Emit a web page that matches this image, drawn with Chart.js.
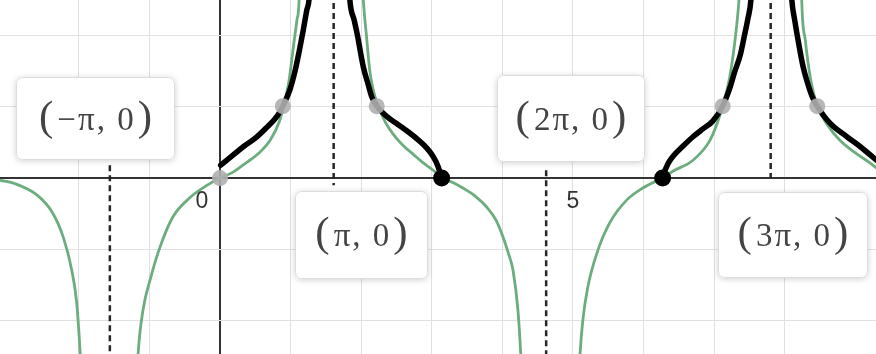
<!DOCTYPE html>
<html>
<head>
<meta charset="utf-8">
<script src="https://cdn.jsdelivr.net/npm/chart.js@4"></script>
<style>
  html, body { margin: 0; padding: 0; background: #fff; }
  #graph { display: block; }
</style>
</head>
<body>
<canvas id="graph" width="876" height="354"></canvas>
<script>
// green curve, one branch between each pair of asymptotes ([x, y])
const greenA = [[-3.12, -0.03], [-2.90, -0.08], [-2.59, -0.24], [-2.37, -0.49], [-2.22, -0.83], [-2.10, -1.29], [-2.03, -1.75], [-1.98, -2.47], [-1.95, -3.12]];
const greenB = [[-1.19, -3.12], [-1.16, -2.47], [-1.09, -1.85], [-0.99, -1.43], [-0.85, -0.97], [-0.67, -0.55], [-0.42, -0.27], [-0.18, -0.10], [0, 0], [0.18, 0.08], [0.35, 0.20], [0.54, 0.34], [0.71, 0.53], [0.84, 0.79], [0.91, 1.04], [0.98, 1.38], [1.03, 1.77], [1.09, 2.22], [1.12, 2.50], [1.13, 3.06]];
const greenC = [[2.00, 3.06], [2.03, 2.50], [2.08, 1.94], [2.12, 1.52], [2.17, 1.24], [2.24, 1.01], [2.34, 0.79], [2.45, 0.62], [2.59, 0.46], [2.73, 0.34], [2.87, 0.22], [3.02, 0.11], [3.14, 0], [3.29, -0.06], [3.44, -0.14], [3.61, -0.25], [3.78, -0.41], [3.91, -0.59], [4.01, -0.83], [4.09, -1.07], [4.15, -1.29], [4.22, -1.85], [4.26, -2.47], [4.29, -3.12]];
const greenD = [[5.07, -3.12], [5.10, -2.47], [5.14, -1.99], [5.21, -1.53], [5.34, -1.05], [5.52, -0.63], [5.76, -0.31], [5.99, -0.14], [6.26, 0], [6.42, 0.10], [6.70, 0.25], [6.94, 0.53], [7.05, 0.79], [7.12, 1.01], [7.22, 1.42], [7.29, 1.89], [7.34, 2.36], [7.35, 2.50], [7.37, 3.06]];
const greenE = [[8.23, 3.06], [8.24, 2.50], [8.29, 1.94], [8.36, 1.42], [8.46, 1.01], [8.61, 0.74], [8.78, 0.53], [8.99, 0.36], [9.21, 0.21], [9.30, 0.14]];

// thick black curve pieces
const blackA = [[0.01, 0.18], [0.17, 0.31], [0.33, 0.44], [0.50, 0.56], [0.65, 0.70], [0.81, 0.87], [0.89, 1.01], [0.99, 1.24], [1.06, 1.49], [1.12, 1.77], [1.18, 2.08], [1.23, 2.36], [1.26, 2.50], [1.29, 3.06]];
const blackB = [[1.81, 3.06], [1.84, 2.50], [1.90, 2.22], [1.94, 2.04], [2.03, 1.56], [2.10, 1.31], [2.15, 1.14], [2.22, 1.01], [2.37, 0.86], [2.51, 0.76], [2.65, 0.66], [2.79, 0.55], [2.93, 0.42], [3.02, 0.30], [3.09, 0.16], [3.13, 0.03]];
const blackC = [[6.27, 0.03], [6.35, 0.21], [6.42, 0.31], [6.56, 0.45], [6.70, 0.58], [6.84, 0.69], [6.98, 0.80], [7.12, 1.01], [7.22, 1.26], [7.29, 1.49], [7.37, 1.73], [7.42, 1.96], [7.48, 2.25], [7.52, 2.50], [7.55, 3.06]];
const blackD = [[8.07, 3.06], [8.10, 2.50], [8.14, 2.22], [8.17, 2.04], [8.26, 1.56], [8.33, 1.31], [8.39, 1.14], [8.46, 1.01], [8.64, 0.77], [8.88, 0.58], [9.07, 0.44], [9.30, 0.25]];

// dashed vertical lines
const asymptoteX = [-1.56, 1.61, 4.62, 7.80];
const asymptoteTop = [0.18, 2.6, 0.11, 2.6];
const asymptoteBottom = [-2.6, -0.1, -2.6, 0];

const solidPoints = [[3.14, 0], [6.27, 0]];
const greyPoints = [[0, 0], [0.89, 1.01], [2.22, 1.01], [7.12, 1.01], [8.46, 1.01]];

const pointLabels = ['(−π, 0)', '(π, 0)', '(2π, 0)', '(3π, 0)'];
const axisNumbers = [0, 5];

const toXY = pairs => pairs.map(p => ({ x: p[0], y: p[1] }));

const curve = function (pairs, color, width, order) {
    return {
        data: toXY(pairs),
        borderColor: color,
        borderWidth: width,
        borderCapStyle: 'round',
        borderJoinStyle: 'round',
        cubicInterpolationMode: 'monotone',
        pointRadius: 0,
        fill: false,
        order: order,
    };
};

const dots = function (pairs, color, radius, order) {
    return {
        data: toXY(pairs),
        showLine: false,
        pointRadius: radius,
        pointBackgroundColor: color,
        pointBorderWidth: 0,
        order: order,
    };
};

const green = '#6cad7e';
const datasets = [];
[greenA, greenB, greenC, greenD, greenE].forEach(b => datasets.push(curve(b, green, 2.8, 5)));
[blackA, blackB, blackC, blackD].forEach(b => datasets.push(curve(b, '#000', 5.5, 3)));
asymptoteX.forEach((x, i) => {
    datasets.push({
        data: [{ x: x, y: asymptoteTop[i] }, { x: x, y: asymptoteBottom[i] }],
        borderColor: '#262626',
        borderWidth: 2.5,
        borderDash: [6, 4],
        pointRadius: 0,
        order: 4,
    });
});
datasets.push(dots(greyPoints, 'rgba(175,175,175,0.9)', 8, 1));
datasets.push(dots(solidPoints, '#000', 8.5, 0));

const gridColor = function (ctx) {
    const v = ctx.tick.value;
    if (v === 0) return '#333';
    return Number.isInteger(v) ? '#e0e0e0' : 'rgba(0,0,0,0)';
};
const gridWidth = ctx => ctx.tick.value === 0 ? 2 : 1;

// label boxes in pixels, same order as pointLabels
const boxLayout = [
    { x: 16, y: 77, w: 159, h: 83 },
    { x: 295, y: 191, w: 133, h: 88 },
    { x: 497, y: 75, w: 148, h: 87 },
    { x: 718, y: 192, w: 150, h: 86 },
];

const labelPlugin = {
    id: 'labelPlugin',
    afterDatasetsDraw(chart) {
        const ctx = chart.ctx;
        const xs = chart.scales.x, ys = chart.scales.y;
        ctx.save();

        ctx.font = '23px "Liberation Sans", Arial, sans-serif';
        ctx.fillStyle = '#333';
        ctx.textAlign = 'center';
        ctx.textBaseline = 'middle';
        axisNumbers.forEach(v => {
            const px = xs.getPixelForValue(v) + (v === 0 ? -18 : 0);
            ctx.fillText(String(v), px, ys.getPixelForValue(0) + 24);
        });

        pointLabels.forEach((text, i) => {
            const b = boxLayout[i];
            ctx.save();
            ctx.shadowColor = 'rgba(0,0,0,0.18)';
            ctx.shadowBlur = 6;
            ctx.shadowOffsetY = 1;
            ctx.fillStyle = '#fff';
            ctx.beginPath();
            ctx.roundRect(b.x, b.y, b.w, b.h, 6);
            ctx.fill();
            ctx.restore();
            ctx.strokeStyle = '#dcdcdc';
            ctx.lineWidth = 1;
            ctx.beginPath();
            ctx.roundRect(b.x + 0.5, b.y + 0.5, b.w - 1, b.h - 1, 6);
            ctx.stroke();

            // inner text with taller parentheses, like the math renderer
            const inner = text.slice(1, -1);
            const cx = b.x + b.w / 2, cy = b.y + b.h / 2;
            ctx.fillStyle = '#444';
            ctx.textBaseline = 'alphabetic';
            ctx.font = '33px "Liberation Serif", "Times New Roman", serif';
            ctx.letterSpacing = '2px';
            const w = ctx.measureText(inner).width;
            ctx.textAlign = 'center';
            ctx.fillText(inner, cx + 1, cy + 11);
            ctx.letterSpacing = '0px';
            ctx.font = '43px "Liberation Serif", "Times New Roman", serif';
            ctx.textAlign = 'right';
            ctx.fillText('(', cx - w / 2 - 3, cy + 11);
            ctx.textAlign = 'left';
            ctx.fillText(')', cx + w / 2 + 3, cy + 11);
        });
        ctx.restore();
    },
};

new Chart(document.getElementById('graph'), {
    type: 'line',
    data: { datasets: datasets },
    options: {
        responsive: false,
        animation: false,
        layout: { padding: 0, autoPadding: false },
        scales: {
            x: {
                type: 'linear',
                min: -3.116,
                max: 9.292,
                ticks: { display: false, stepSize: 1 },
                grid: { drawTicks: false, color: gridColor, lineWidth: gridWidth },
                border: { display: false },
            },
            y: {
                type: 'linear',
                min: -2.47,
                max: 2.5,
                ticks: { display: false, stepSize: 1 },
                grid: { drawTicks: false, color: gridColor, lineWidth: gridWidth },
                border: { display: false },
            },
        },
        plugins: {
            legend: { display: false },
            tooltip: { enabled: false },
        },
    },
    plugins: [labelPlugin],
});
</script>
</body>
</html>
